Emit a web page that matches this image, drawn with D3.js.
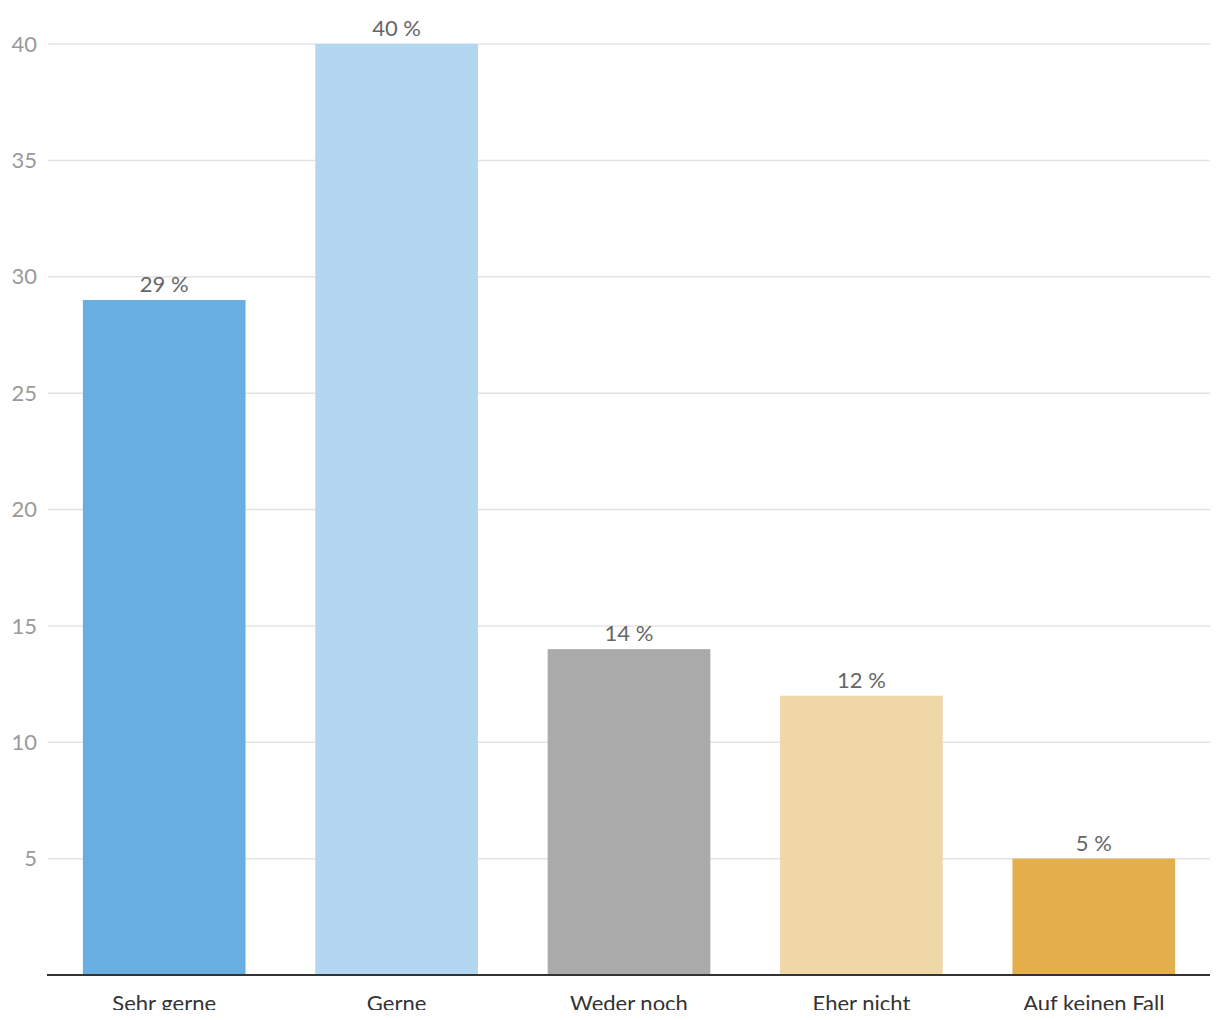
<!DOCTYPE html>
<html><head><meta charset="utf-8">
<script src="https://cdn.jsdelivr.net/npm/d3@7"></script>
<style>
html,body{margin:0;padding:0;background:#fff;overflow:hidden;}
svg{display:block;font-family:Lato,"Noto Sans",sans-serif;}
</style></head>
<body>
<script>
const categories = ["Sehr gerne","Gerne","Weder noch","Eher nicht","Auf keinen Fall"];
const values = [29,40,14,12,5];
const colors = ["#69aee1","#b3d7f0","#aaaaaa","#f0d7a7","#e2af4c"];
const yTicks = [5,10,15,20,25,30,35,40];

(function(){
const W = 1220, H = 1010;
const mLeft = 48, mRight = 1210, mTop = 44, mBottom = 975;
const svg = d3.select("body").append("svg").attr("width", W).attr("height", H);

const x = d3.scaleBand().domain(categories).range([mLeft, mRight]).paddingInner(0.3).paddingOuter(0.15);
const y = d3.scaleLinear().domain([0, 40]).range([mBottom, mTop]);

// gridlines
svg.append("g").selectAll("line").data(yTicks).join("line")
  .attr("x1", mLeft).attr("x2", mRight)
  .attr("y1", d => y(d)).attr("y2", d => y(d))
  .attr("stroke", "#e3e3e3").attr("stroke-width", 1.5);

// y tick labels
svg.append("g").selectAll("text").data(yTicks).join("text")
  .attr("x", 37).attr("y", d => y(d)).attr("dy", "0.35em")
  .attr("text-anchor", "end").attr("fill", "#9a9a9a")
  .attr("font-size", 22).text(d => d);

// bars
svg.append("g").selectAll("rect").data(values).join("rect")
  .attr("x", (d, i) => x(categories[i])).attr("width", x.bandwidth())
  .attr("y", d => y(d)).attr("height", d => y(0) - y(d))
  .attr("fill", (d, i) => colors[i]);

// value labels
svg.append("g").selectAll("text").data(values).join("text")
  .attr("x", (d, i) => x(categories[i]) + x.bandwidth() / 2)
  .attr("y", d => y(d) - 8)
  .attr("text-anchor", "middle").attr("fill", "#666")
  .attr("font-size", 22).text(d => d + " %");

// x axis
const xAxis = svg.append("g").attr("transform", `translate(0,${mBottom})`)
  .call(d3.axisBottom(x).tickSize(0).tickPadding(20));
xAxis.select(".domain").attr("stroke", "#333").attr("stroke-width", 2).attr("d", `M${mLeft-1},0H${mRight}`);
xAxis.selectAll("text").attr("font-size", 22).attr("fill", "#333")
  .attr("font-family", "Lato, 'Noto Sans', sans-serif");
})();
</script>
</body></html>
